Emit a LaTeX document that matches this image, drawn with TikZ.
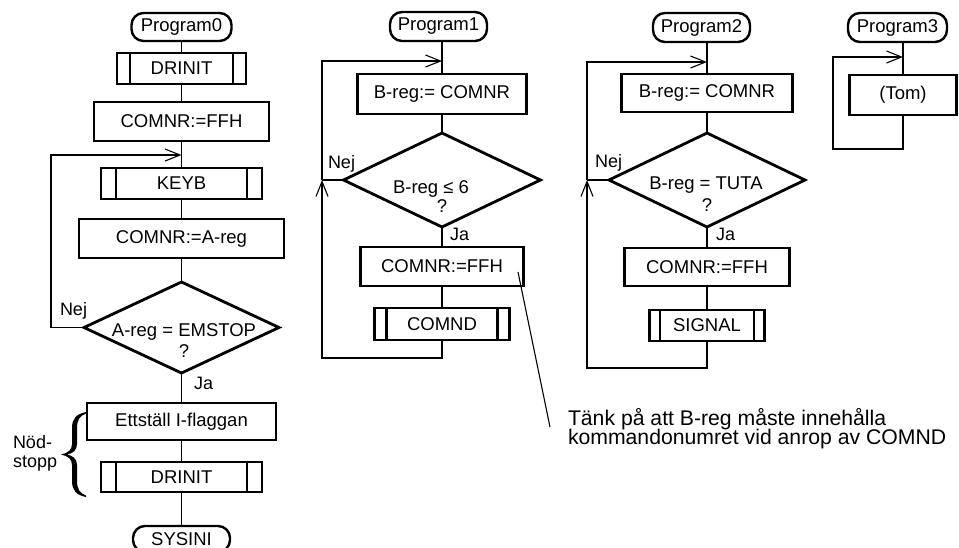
\documentclass[tikz,border=0pt]{standalone}
\usepackage{fontspec}
\setmainfont{Liberation Sans}
\usetikzlibrary{arrows.meta,shapes.geometric}
\begin{document}
\begin{tikzpicture}[x=1pt,y=-1pt,
  every node/.style={font=\fontsize{18.5}{22}\selectfont, inner sep=0pt, outer sep=0pt},
  proc/.style={draw, rectangle, line width=2.8pt},
  sub/.style={proc, path picture={
      \draw[line width=2.8pt] ([xshift=#1]path picture bounding box.north west) -- ([xshift=#1]path picture bounding box.south west);
      \draw[line width=2.8pt] ([xshift=-#1]path picture bounding box.north east) -- ([xshift=-#1]path picture bounding box.south east);}},
  sub/.default=13pt,
  term/.style={draw, rectangle, rounded corners=12pt, line width=2.4pt},
  dec/.style={draw, diamond, line width=2.8pt},
  conn/.style={line width=1.1pt},
  arr/.style={conn, -{Straight Barb[length=15pt,width=12pt,line width=1.1pt]}},
  lbl/.style={anchor=base west, font=\fontsize{18}{21}\selectfont},
  note/.style={anchor=base west, font=\fontsize{21.2}{24}\selectfont}
]
\useasboundingbox (0,0) rectangle (959,547);

% ---------------- Program0 ----------------
\node[term, minimum width=100pt, minimum height=28pt] (t0) at (181.5,27) {Program0};
\node[sub, minimum width=129pt, minimum height=31pt] (d0a) at (181.5,68.5) {DRINIT};
\node[proc, minimum width=175pt, minimum height=39pt] (c0a) at (181.5,121.5) {COMNR:=FFH};
\node[sub=15pt, minimum width=161pt, minimum height=31pt] (k0) at (181.5,183.5) {KEYB};
\node[proc, minimum width=205pt, minimum height=39pt] (c0b) at (181.5,238.5) {COMNR:=A-reg};
\node[dec, minimum width=195pt, minimum height=91pt] (q0) at (181.5,327.5) {};
\node[anchor=base] (q0t) at (184,336) {A-reg = EMSTOP};
\node[anchor=base] (q0q) at (184,357) {?};
\node[proc, minimum width=189pt, minimum height=37pt] (e0) at (181.5,421.5) {Ettställ I-flaggan};
\node[sub=15pt, minimum width=161pt, minimum height=30pt] (d0b) at (181.5,477) {DRINIT};
\node[term, minimum width=97pt, minimum height=26pt] (s0) at (181.5,539) {SYSINI};

\draw[conn] (t0) -- (d0a) -- (c0a) -- (k0) -- (c0b) -- (q0) -- (e0) -- (d0b) -- (s0);
\coordinate (j0) at (181.5,155);
\coordinate (l0a) at (51,327.5);
\coordinate (l0b) at (51,155);
\draw[arr] (q0.west) -- (l0a) -- (l0b) -- (j0);
\node[lbl] (nej0) at (60,315) {Nej};
\node[lbl] (ja0) at (194,389) {Ja};

% brace
\fill (86,412) .. controls (76,414) and (72,419) .. (72,428) -- (72,444)
  .. controls (72,450) and (68,453) .. (61,454.5)
  .. controls (68,456) and (72,459) .. (72,465) -- (72,481)
  .. controls (72,490) and (76,495) .. (86,497)
  -- (86,495.5) .. controls (80,493.5) and (77,489) .. (77,481) -- (77,465)
  .. controls (77,459) and (73,455.5) .. (67,454.5)
  .. controls (73,453.5) and (77,450) .. (77,444) -- (77,428)
  .. controls (77,420) and (80,415.5) .. (86,413.5) -- cycle;
\node[lbl] (nod1) at (13,448) {Nöd-};
\node[lbl] (nod2) at (13,467) {stopp};

% ---------------- Program1 ----------------
\node[term, minimum width=97pt, minimum height=29pt] (t1) at (438.5,26.5) {Program1};
\node[proc, minimum width=169pt, minimum height=40pt] (b1) at (442,94) {B-reg:= COMNR};
\node[dec, minimum width=197pt, minimum height=94pt] (q1) at (442,180) {};
\node[anchor=base] (q1t) at (431,193) {B-reg ≤ 6};
\node[anchor=base] (q1q) at (442,212) {?};
\node[proc, minimum width=163pt, minimum height=39pt] (c1) at (442,266.5) {COMNR:=FFH};
\node[sub=12pt, minimum width=135pt, minimum height=32pt] (m1) at (442,324) {COMND};

\draw[conn] (t1.south -| b1.north) -- (b1) -- (q1) -- (c1) -- (m1);
\coordinate (j1) at (442,61);
\coordinate (l1a) at (322,61);
\coordinate (n1) at (322,180);
\coordinate (l1b) at (322,358);
\coordinate (l1c) at (442,358);
\draw[arr] (m1) -- (l1c) -- (l1b) -- (n1);
\draw[arr] (n1) -- (l1a) -- (j1);
\draw[conn] (q1.west) -- (n1);
\node[lbl] (nej1) at (328,168) {Nej};
\node[lbl] (ja1) at (450,240) {Ja};

% ---------------- Program2 ----------------
\node[term, minimum width=97pt, minimum height=29pt] (t2) at (701.5,27.5) {Program2};
\node[proc, minimum width=171pt, minimum height=38pt] (b2) at (707,93) {B-reg:= COMNR};
\node[dec, minimum width=196pt, minimum height=94pt] (q2) at (707,180) {};
\node[anchor=base] (q2t) at (706,189) {B-reg = TUTA};
\node[anchor=base] (q2q) at (707,211) {?};
\node[proc, minimum width=165pt, minimum height=38pt] (c2) at (707,267) {COMNR:=FFH};
\node[sub=10.5pt, minimum width=115pt, minimum height=31pt] (s2) at (707,325.5) {SIGNAL};

\draw[conn] (t2.south -| b2.north) -- (b2) -- (q2) -- (c2) -- (s2);
\coordinate (j2) at (707,62);
\coordinate (l2a) at (587,62);
\coordinate (n2) at (587,180);
\coordinate (l2b) at (587,368);
\coordinate (l2c) at (707,368);
\draw[arr] (s2) -- (l2c) -- (l2b) -- (n2);
\draw[arr] (n2) -- (l2a) -- (j2);
\draw[conn] (q2.west) -- (n2);
\node[lbl] (nej2) at (595,167) {Nej};
\node[lbl] (ja2) at (716,240) {Ja};

% ---------------- Program3 ----------------
\node[term, minimum width=99pt, minimum height=29pt] (t3) at (897.5,27.5) {Program3};
\node[proc, minimum width=107pt, minimum height=40pt] (tom) at (903,95) {(Tom)};
\draw[conn] (t3.south -| tom.north) -- (tom);
\coordinate (j3) at (903,57);
\coordinate (l3a) at (903,149);
\coordinate (l3b) at (833,149);
\coordinate (l3c) at (833,57);
\draw[arr] (tom) -- (l3a) -- (l3b) -- (l3c) -- (j3);

% ---------------- Note ----------------
\coordinate (k1) at (518,272);
\coordinate (k2) at (550,427);
\draw[conn] (k1) -- (k2);
\node[note] (note1) at (568,425) {Tänk på att B-reg måste innehålla};
\node[note] (note2) at (568,444.5) {kommandonumret vid anrop av COMND};
\end{tikzpicture}
\end{document}
